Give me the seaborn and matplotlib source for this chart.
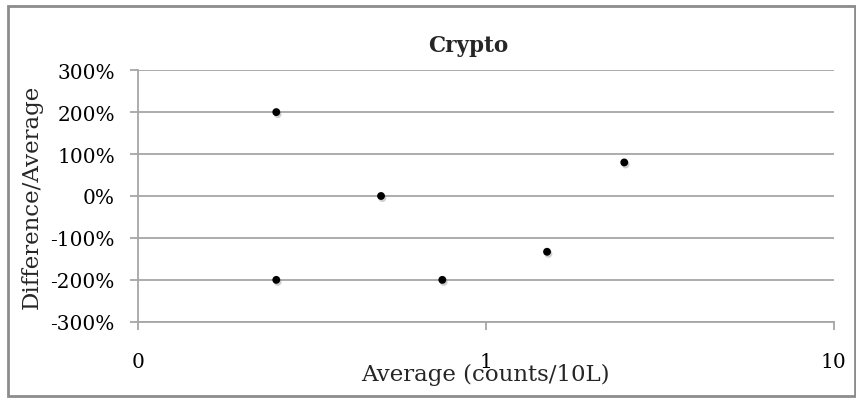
import matplotlib
matplotlib.use('Agg')
import matplotlib.pyplot as plt
import matplotlib.patheffects as pe
from matplotlib.ticker import FixedLocator, FuncFormatter, NullLocator
import pandas as pd
import seaborn as sns

"Crypto: diferença relativa vs média"

media = [0.25, 0.25, 0.5, 0.75, 1.5, 2.5]
diferenca = [2.0, -2.0, 0.0, -2.0, -1.33, 0.8]
y_ticks = [-3, -2, -1, 0, 1, 2, 3]
x_ticks = [0.1, 1, 10]
x_tick_labels = ['0', '1', '10']

dados = pd.DataFrame({'Average': media, 'Diff': diferenca})

sns.set_style('white')
plt.rcParams['font.family'] = ['DejaVu Serif']

fig = plt.figure(figsize=(8.56, 4.02), dpi=100)
ax = fig.add_axes([0.161, 0.197, 0.813, 0.626])

sns.scatterplot(data=dados, x='Average', y='Diff', ax=ax, color='black',
                s=32, edgecolor='none', zorder=5)
ax.collections[0].set_path_effects([
    pe.SimplePatchShadow(offset=(1, -1.5), shadow_rgbFace='#888888', alpha=0.4),
    pe.Normal()])

ax.set_xscale('log')
ax.set_xlim(0.1, 10)
ax.set_ylim(-3, 3)
ax.xaxis.set_major_locator(FixedLocator(x_ticks))
ax.xaxis.set_minor_locator(NullLocator())
ax.xaxis.set_major_formatter(FuncFormatter(lambda v, p: x_tick_labels[x_ticks.index(v)] if v in x_ticks else ''))
ax.set_yticks(y_ticks)
ax.yaxis.set_major_formatter(FuncFormatter(lambda v, p: f'{v * 100:.0f}%'))

ax.grid(axis='y', color='#A6A6A6', linewidth=1.3)
ax.set_axisbelow(True)
for lado in ['top', 'right']:
    ax.spines[lado].set_visible(False)
for lado in ['left', 'bottom']:
    ax.spines[lado].set_color('#A6A6A6')
    ax.spines[lado].set_linewidth(1.3)
ax.tick_params(axis='both', which='major', direction='out', length=5.5, width=1.3,
               color='#A6A6A6', labelsize=14.5, labelcolor='black')
ax.tick_params(axis='x', bottom=True, pad=16.5)
ax.tick_params(axis='y', left=True, pad=11)

fig.text(0.547, 0.886, 'Crypto', fontsize=15.5, fontweight='bold', ha='center', va='center')
ax.set_xlabel('Average (counts/10L)', fontsize=16.5)
ax.xaxis.set_label_coords(0.5, -0.163)
ax.set_ylabel('Difference/Average', fontsize=16.5)
ax.yaxis.set_label_coords(-0.137, 0.5)

borda = plt.Rectangle((0.009, 0.013), 0.99, 0.97, transform=fig.transFigure,
                      fill=False, edgecolor='#8C8C8C', linewidth=2)
fig.patches.append(borda)

fig.savefig('out.png', dpi=100)
plt.close()
